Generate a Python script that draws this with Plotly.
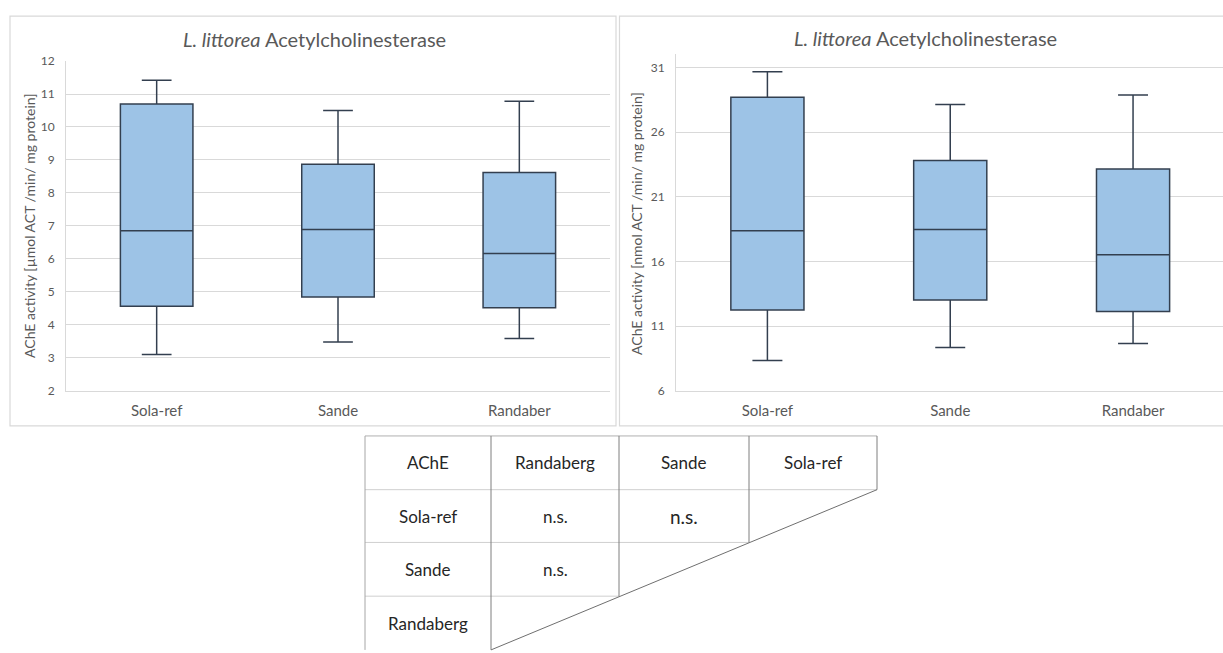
import plotly.graph_objects as go

W, H = 1223, 653

# ---------------- data ----------------
sites = ["Sola-ref", "Sande", "Randaber"]

umol_low = [3.10, 3.48, 3.58]
umol_q1 = [4.56, 4.84, 4.52]
umol_med = [6.85, 6.89, 6.16]
umol_q3 = [10.70, 8.87, 8.62]
umol_high = [11.42, 10.50, 10.78]

nmol_low = [8.33, 9.34, 9.64]
nmol_q1 = [12.23, 13.01, 12.13]
nmol_med = [18.37, 18.47, 16.51]
nmol_q3 = [28.69, 23.80, 23.15]
nmol_high = [30.65, 28.13, 28.86]

left_ticks = [2, 3, 4, 5, 6, 7, 8, 9, 10, 11, 12]
right_ticks = [6, 11, 16, 21, 26, 31]

table_header = ["AChE", "Randaberg", "Sande", "Sola-ref"]
table_rows = ["Sola-ref", "Sande", "Randaberg"]
table_values = [["n.s.", "n.s."], ["n.s."], []]

# ---------------- style ----------------
FONT = "Lato"
GREY_TXT = "#595959"
GRID = "#d9d9d9"
BOX_FILL = "#9dc3e6"
BOX_LINE = "#333f4f"


def px_x(p):
    return p / W


def px_y(p):
    return 1 - p / H


fig = go.Figure()

fig.add_trace(go.Box(
    x=sites, q1=umol_q1, median=umol_med, q3=umol_q3,
    lowerfence=umol_low, upperfence=umol_high,
    fillcolor=BOX_FILL, line=dict(color=BOX_LINE, width=1.5),
    width=0.4, whiskerwidth=0.41, boxpoints=False,
    xaxis="x", yaxis="y", showlegend=False, hoverinfo="skip",
))
fig.add_trace(go.Box(
    x=sites, q1=nmol_q1, median=nmol_med, q3=nmol_q3,
    lowerfence=nmol_low, upperfence=nmol_high,
    fillcolor=BOX_FILL, line=dict(color=BOX_LINE, width=1.5),
    width=0.4, whiskerwidth=0.41, boxpoints=False,
    xaxis="x2", yaxis="y2", showlegend=False, hoverinfo="skip",
))

axis_common = dict(
    tickfont=dict(family=FONT, size=15, color=GREY_TXT),
    showgrid=False, zeroline=False, ticks="",
    showline=True, linecolor=GRID, linewidth=1,
)
yaxis_common = dict(
    tickfont=dict(family=FONT, size=12, color=GREY_TXT),
    showgrid=True, gridcolor=GRID, gridwidth=1, zeroline=False,
    ticks="", showline=True, linecolor=GRID, linewidth=1,
)

fig.update_layout(
    width=W, height=H,
    margin=dict(l=0, r=0, t=0, b=0),
    paper_bgcolor="white", plot_bgcolor="white",
    xaxis=dict(domain=[px_x(66), px_x(610)], range=[-0.5, 2.5],
               anchor="y", ticklabelstandoff=6, **axis_common),
    yaxis=dict(domain=[px_y(391.7), px_y(54.3)], range=[2, 12],
               tickvals=left_ticks, anchor="x", ticklabelstandoff=8,
               **yaxis_common),
    xaxis2=dict(domain=[px_x(676), 1.0], range=[-0.5, 2.492],
                anchor="y2", ticklabelstandoff=6, **axis_common),
    yaxis2=dict(domain=[px_y(391.7), px_y(47.5)], range=[6, 32],
                tickvals=right_ticks, anchor="x2", ticklabelstandoff=8,
                **yaxis_common),
)

shapes = []
annotations = []


def line(x0, y0, x1, y1, color, width=1, layer="above"):
    shapes.append(dict(type="line", xref="paper", yref="paper",
                       x0=px_x(x0), y0=px_y(y0), x1=px_x(x1), y1=px_y(y1),
                       line=dict(color=color, width=width), layer=layer))


def label(x, y, text, size, color, angle=0):
    annotations.append(dict(xref="paper", yref="paper", x=px_x(x), y=px_y(y),
                            text=text, showarrow=False, textangle=angle,
                            font=dict(family=FONT, size=size, color=color),
                            xanchor="center", yanchor="middle"))


# panel borders
shapes.append(dict(type="rect", xref="paper", yref="paper",
                   x0=px_x(10), y0=px_y(427.7), x1=px_x(616), y1=px_y(8.3),
                   line=dict(color=GRID, width=1.2), layer="below"))
shapes.append(dict(type="rect", xref="paper", yref="paper",
                   x0=px_x(619.5), y0=px_y(427.7), x1=px_x(1240), y1=px_y(8.3),
                   line=dict(color=GRID, width=1.2), layer="below"))

# titles
label(314, 32, "<i>L. littorea</i> Acetylcholinesterase", 20, GREY_TXT)
label(925, 30.5, "<i>L. littorea</i> Acetylcholinesterase", 20, GREY_TXT)

label(30, 223, "AChE activity [µmol ACT /min/ mg protein]", 14, GREY_TXT, -90)
label(637, 221, "AChE activity [nmol ACT /min/ mg protein]", 14, GREY_TXT, -90)

# ---------------- table ----------------
col_edges = [365, 491, 619, 749, 877]
row_edges = [438, 493, 547, 602, 657]
H_LINE = "#cfcfcf"
V_LINE = "#7f7f7f"

line(col_edges[0], row_edges[0], col_edges[4], row_edges[0], "#b0b0b0")
for i in range(1, 4):
    line(col_edges[0], row_edges[i], col_edges[5 - i], row_edges[i], H_LINE)
line(col_edges[0], row_edges[0], col_edges[0], row_edges[4], "#a6a6a6")
for j in range(1, 5):
    line(col_edges[j], row_edges[0], col_edges[j], row_edges[5 - j], V_LINE)
line(col_edges[4], row_edges[1], col_edges[1], row_edges[4], "#6f6f6f")

TXT = "#262626"
col_centers = [(col_edges[k] + col_edges[k + 1]) / 2 for k in range(4)]
row_centers = [(row_edges[k] + row_edges[k + 1]) / 2 for k in range(4)]
for k, h in enumerate(table_header):
    label(col_centers[k], row_centers[0], h, 17, TXT)
for r, lab in enumerate(table_rows):
    label(col_centers[0], row_centers[r + 1], lab, 17, TXT)
    for c, v in enumerate(table_values[r]):
        size = 19 if (r == 0 and c == 1) else 17
        label(col_centers[c + 1], row_centers[r + 1], v, size, TXT)

fig.update_layout(shapes=shapes, annotations=annotations)

post = (
    "document.documentElement.style.margin='0';"
    "document.documentElement.style.overflow='hidden';"
    "document.body.style.margin='0';"
    "document.body.style.overflow='hidden';"
    "var d=document.getElementById('{plot_id}');"
    "d.style.position='fixed';d.style.left='0px';d.style.top='0px';"
)
fig.write_html("out.html", post_script=post,
               config={"displayModeBar": False})
